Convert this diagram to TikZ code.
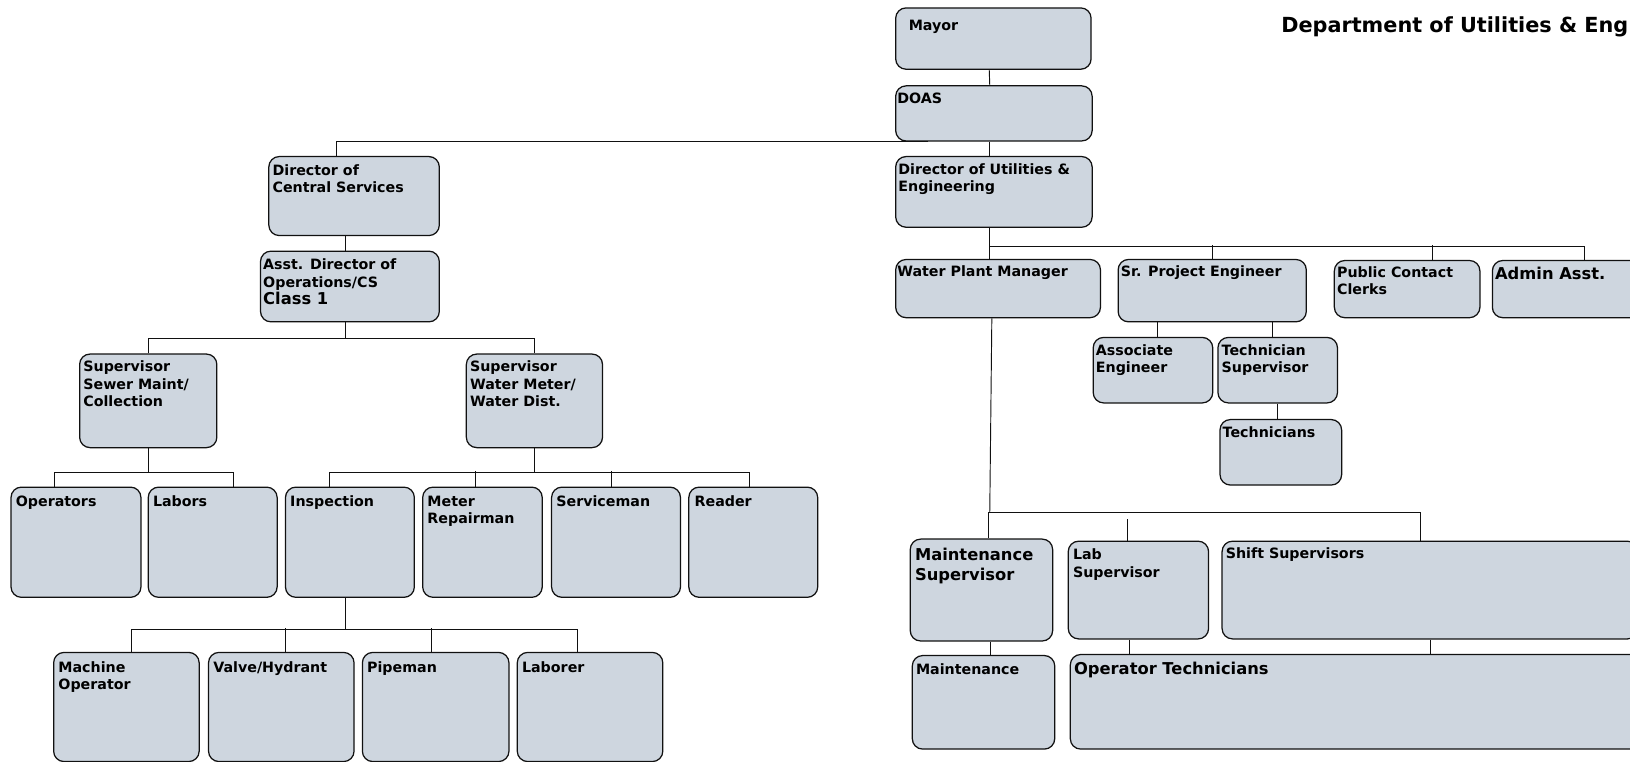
\documentclass[tikz,border=0pt]{standalone}
\usepackage{fontspec}
\setmainfont{DejaVu Sans}
\newfontfamily\headfont{DejaVu Sans}
\usepackage{tikz}
\usetikzlibrary{positioning}
\usepackage{xcolor}
\definecolor{boxfill}{RGB}{206,214,223}
\definecolor{ink}{HTML}{111111}
\newcommand\nsz{\fontsize{13.7}{16.8}\selectfont\bfseries}
\newcommand\bsz{\fontsize{15.7}{19}\selectfont\bfseries}

\begin{document}
\begin{tikzpicture}[x=1pt, y=-1pt, font=\nsz,
    post/.style 2 args={draw=ink, line width=1.2pt, fill=boxfill, rounded corners=10pt,
      anchor=north west, inner sep=0pt, minimum width=#1, minimum height=#2},
    txt/.style={anchor=north west, align=left, inner sep=0pt, xshift=4pt, yshift=-7pt},
    link/.style={draw=ink, line width=0.9pt}]
  \path[use as bounding box, fill=white] (0,0) rectangle (1568,733);

  \node[font=\headfont\fontsize{20}{24}\selectfont\bfseries, anchor=west] (title) at (1229,26)
    {Department of Utilities \& Engineering};

  % top of the chart
  \node[post={188pt}{59pt}, label={[txt, xshift=9pt, yshift=-5pt]north west:Mayor}] (mayor) at (861,7) {};
  \node[post={189pt}{53pt}, label={[txt, xshift=-2pt]north west:DOAS}] (doas) at (861,82) {};
  \node[post={189pt}{68pt}, label={[txt, xshift=-1pt]north west:{Director of Utilities \&\\Engineering}}] (dirue) at (861,150) {};

  % central services side
  \node[post={164pt}{76pt}, label={[txt, yshift=-1pt]north west:{Director of\\Central Services}}] (dircs) at (258,150) {};
  \node[post={172pt}{68pt}, label={[txt, xshift=-1pt, yshift=-1pt]north west:{Asst. Director of\\Operations/CS\\{\bsz Class 1}}}] (asst) at (250,241) {};
  \node[post={132pt}{90pt}, label={[txt]north west:{Supervisor\\Sewer Maint/\\Collection}}] (sewer) at (76,340) {};
  \node[post={131pt}{90pt}, label={[txt]north west:{Supervisor\\Water Meter/\\Water Dist.}}] (water) at (448,340) {};

  \node[post={125pt}{106pt}, label={[txt, xshift=1pt, yshift=-2pt]north west:Operators}] (operators) at (10,468) {};
  \node[post={124pt}{106pt}, label={[txt, xshift=1pt, yshift=-2pt]north west:Labors}] (labors) at (142,468) {};
  \node[post={124pt}{106pt}, label={[txt, xshift=1pt, yshift=-2pt]north west:Inspection}] (inspection) at (274,468) {};
  \node[post={115pt}{106pt}, label={[txt, xshift=1pt, yshift=-2pt]north west:{Meter\\Repairman}}] (meterrep) at (406,468) {};
  \node[post={124pt}{106pt}, label={[txt, xshift=1pt, yshift=-2pt]north west:Serviceman}] (serviceman) at (530,468) {};
  \node[post={124pt}{106pt}, label={[txt, xshift=2pt, yshift=-2pt]north west:Reader}] (reader) at (662,468) {};

  \node[post={140pt}{105pt}, label={[txt, xshift=1pt, yshift=-2pt]north west:{Machine\\Operator}}] (machine) at (51,627) {};
  \node[post={140pt}{105pt}, label={[txt, xshift=1pt, yshift=-2pt]north west:Valve/Hydrant}] (valve) at (200,627) {};
  \node[post={141pt}{105pt}, label={[txt, xshift=1pt, yshift=-2pt]north west:Pipeman}] (pipeman) at (348,627) {};
  \node[post={140pt}{105pt}, label={[txt, xshift=1pt, yshift=-2pt]north west:Laborer}] (laborer) at (497,627) {};

  % utilities & engineering side
  \node[post={197pt}{56pt}, label={[txt, xshift=-2pt, yshift=1pt]north west:Water Plant Manager}] (wpm) at (861,249) {};
  \node[post={181pt}{60pt}, label={[txt, xshift=-1pt, yshift=1pt]north west:Sr. Project Engineer}] (srpe) at (1075,249) {};
  \node[post={140pt}{55pt}, label={[txt, xshift=-1pt, yshift=1pt]north west:{Public Contact\\Clerks}}] (pcc) at (1283,250) {};
  \node[post={145pt}{55pt}, label={[txt, font=\bsz, xshift=-1pt]north west:Admin Asst.}] (admin) at (1435,250) {};
  \node[post={115pt}{63pt}, label={[txt, xshift=-1pt]north west:{Associate\\Engineer}}] (assoc) at (1051,324) {};
  \node[post={115pt}{63pt}, label={[txt]north west:{Technician\\Supervisor}}] (techsup) at (1171,324) {};
  \node[post={117pt}{63pt}, label={[txt, xshift=-1pt]north west:Technicians}] (techs) at (1173,403) {};

  \node[post={137pt}{98pt}, label={[txt, font=\bsz, xshift=1pt, yshift=-2pt]north west:{Maintenance\\Supervisor}}] (maintsup) at (875,518) {};
  \node[post={135pt}{94pt}, label={[txt, xshift=1pt, yshift=-1pt]north west:{Lab\\Supervisor}}] (lab) at (1027,520) {};
  \node[post={400pt}{94pt}, label={[txt]north west:Shift Supervisors}] (shift) at (1175,520) {};
  \node[post={137pt}{90pt}, label={[txt, yshift=-1pt]north west:Maintenance}] (maint) at (877,630) {};
  \node[post={550pt}{91pt}, label={[txt, font=\bsz, yshift=-1pt]north west:Operator Technicians}] (optech) at (1029,629) {};

  % connectors
  \draw[link] ([xshift=-4pt]mayor.south) -- ([xshift=-4pt]doas.north);
  \draw[link] ([xshift=-4pt]doas.south) -- ([xshift=-4pt]dirue.north);
  \draw[link] ([xshift=32pt]doas.south west) -| ([xshift=-17pt]dircs.north);
  \draw[link] ([xshift=-8pt]dircs.south) -- ++(0,15);

  \draw[link] ([xshift=-4pt]asst.south) -- ++(0,15) coordinate (asstbus);
  \draw[link] (sewer.north) |- (asstbus) -| (water.north);

  \draw[link] (sewer.south) -- ++(0,23) coordinate (sewerbus);
  \draw[link] ([xshift=-21pt]operators.north) |- (sewerbus) -| ([xshift=20pt]labors.north);

  \draw[link] (water.south) -- ++(0,23) coordinate (waterbus);
  \draw[link] ([xshift=-20pt]inspection.north) |- (waterbus) -| ([xshift=-4pt]reader.north);
  \draw[link] ([xshift=-7pt]meterrep.north) -- ++(0,-15);
  \draw[link] ([xshift=-4pt]serviceman.north) -- ++(0,-15);

  \draw[link] ([xshift=-4pt]inspection.south) -- ++(0,30) coordinate (inspbus);
  \draw[link] ([xshift=5pt]machine.north) |- (inspbus) -| ([xshift=-12pt]laborer.north);
  \draw[link] ([xshift=4pt]valve.north) -- ++(0,-23);
  \draw[link] ([xshift=-4pt]pipeman.north) -- ++(0,-23);

  \draw[link] ([xshift=-4pt]dirue.south) -- ++(0,18) coordinate (dirbus);
  \draw[link] (dirbus) -- ([xshift=-8pt]wpm.north);
  \draw[link] (dirbus) -| ([xshift=16pt]admin.north);
  \draw[link] (srpe.north) -- ++(0,-13);
  \draw[link] ([xshift=24pt]pcc.north) -- ++(0,-14);

  \draw[link] ([xshift=4pt]assoc.north) -- ++(0,-15);
  \draw[link] ([xshift=-5pt]techsup.north) -- ++(0,-15);
  \draw[link] (techsup.south) -- (techsup.south |- techs.north);

  \draw[link] ([xshift=-6pt]wpm.south) -- ++(-2,187) coordinate (wpmbus);
  \draw[link] ([xshift=7pt]maintsup.north) |- (wpmbus) -| ([xshift=-9pt]shift.north);
  \draw[link] ([xshift=-11pt]lab.north) -- ++(0,-21);

  \draw[link] ([xshift=9pt]maintsup.south) -- ++(0,14);
  \draw[link] ([xshift=-9pt]lab.south) -- ++(0,15);
  \draw[link] (shift.south) -- ++(0,15);
\end{tikzpicture}
\end{document}
